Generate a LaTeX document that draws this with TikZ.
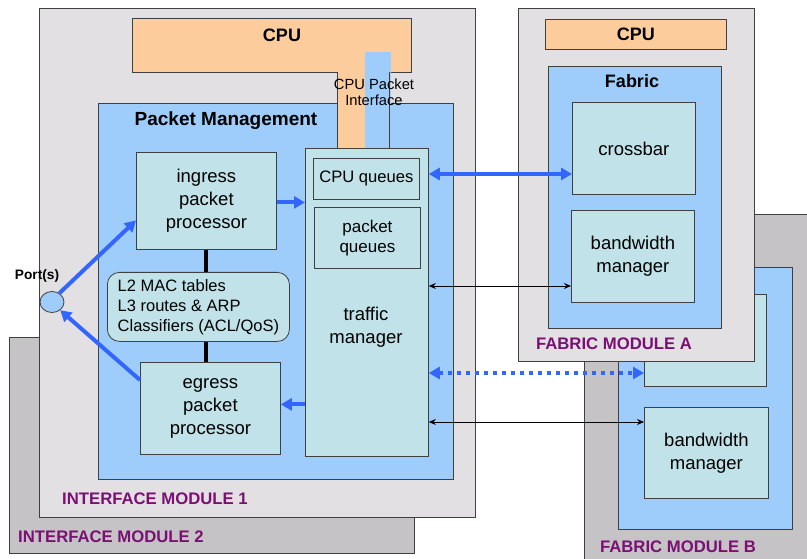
\documentclass[tikz,border=0pt]{standalone}
\usepackage{fontspec}
\setmainfont{Liberation Sans}
\usetikzlibrary{arrows.meta,shapes.geometric}
\definecolor{grayA}{HTML}{E2E0E3}
\definecolor{grayB}{HTML}{C5C3C6}
\definecolor{pmblue}{HTML}{9FCDFB}
\definecolor{cyanbox}{HTML}{C0E2E8}
\definecolor{cpuorange}{HTML}{FDCC9C}
\definecolor{arrowblue}{HTML}{3366FF}
\definecolor{modpurple}{HTML}{7B0F73}
\definecolor{edge}{HTML}{404040}
\begin{document}
\begin{tikzpicture}[x=1pt,y=-1pt,
  box/.style={draw=edge,line width=0.8pt,inner sep=0pt,anchor=north west,align=center,
    font=\fontsize{18.5}{23}\selectfont},
  modbox/.style={box,fill=grayA},
  modboxB/.style={box,fill=grayB},
  bluebox/.style={box,fill=pmblue},
  cyanbx/.style={box,fill=cyanbox},
  cpubox/.style={box,fill=cpuorange,font=\bfseries\fontsize{18}{20}\selectfont},
  title/.style={font=\bfseries\fontsize{18}{20}\selectfont,inner sep=0pt},
  modlabel/.style={font=\bfseries\fontsize{16.7}{20}\selectfont,text=modpurple,inner sep=0pt},
  bigarrow/.style={draw=arrowblue,line width=4pt,-{Triangle[length=11pt,width=12pt]}},
  bigdarrow/.style={draw=arrowblue,line width=4pt,{Triangle[length=11pt,width=12pt]}-{Triangle[length=11pt,width=12pt]}},
  dotarrow/.style={bigdarrow,dash pattern=on 4pt off 5pt},
  thinarrow/.style={draw=black,line width=0.8pt,{Stealth[length=7pt,width=6pt]}-{Stealth[length=7pt,width=6pt]}},
  link/.style={draw=black,line width=4pt}]
\useasboundingbox (0,0) rectangle (807,559);
\clip (0,0) rectangle (807,559);
\fill[white] (0,0) rectangle (807,559);

% Interface module 2 (behind)
\node[modboxB,minimum width=405pt,minimum height=216pt] (im2) at (9,337) {};
% Interface module 1
\node[modbox,minimum width=436pt,minimum height=509pt] (im1) at (39,8) {};

% Fabric module B (behind)
\node[modboxB,minimum width=240pt,minimum height=360pt] (fmb) at (584,214) {};
\node[bluebox,minimum width=174pt,minimum height=262pt] (fabb) at (618,267) {};
\node[cyanbx,minimum width=122pt,minimum height=92pt] (xbarb) at (644,294) {};
\node[cyanbx,minimum width=124pt,minimum height=91pt] (bwb) at (644,407) {bandwidth\\manager};

% Fabric module A
\node[modbox,minimum width=236pt,minimum height=353pt] (fma) at (518,8) {};
\node[cpubox,minimum width=181pt,minimum height=30pt] (cpua) at (545,19) {CPU};
\node[bluebox,minimum width=173pt,minimum height=262pt] (faba) at (548,66) {};
\node[title] (fabtitle) at (632,81) {Fabric};
\node[cyanbx,minimum width=123pt,minimum height=92pt] (xbara) at (572,102) {crossbar};
\node[cyanbx,minimum width=123pt,minimum height=92pt] (bwa) at (571,210) {bandwidth\\manager};

% Packet management
\node[bluebox,minimum width=355pt,minimum height=376pt] (pm) at (98,103) {};
\node[title,font=\bfseries\fontsize{19}{20}\selectfont] (pmtitle) at (226,121) {Packet Management};

% CPU T shape
\path[fill=cpuorange,draw=edge,line width=0.8pt] (132,18) -- (411,18) -- (411,72) -- (389,72) -- (389,148) -- (337,148) -- (337,72) -- (132,72) -- cycle;
\fill[pmblue] (365,52) rectangle (391,148);
\draw[edge,line width=0.8pt] (389,72) -- (389,148);
\node[title] (cpum) at (282,35) {CPU};
\node[font=\fontsize{14.7}{16.5}\selectfont,align=center,inner sep=0pt] (cpuif) at (374,92) {CPU Packet\\Interface};

% Inner boxes
\node[cyanbx,minimum width=140pt,minimum height=97pt] (ingress) at (136,152) {ingress\\packet\\processor};
\node[cyanbx,minimum width=140pt,minimum height=92pt] (egress) at (140,362) {egress\\packet\\processor};
\node[cyanbx,minimum width=123pt,minimum height=308pt] (tm) at (305,148) {};
\node[font=\fontsize{18.5}{23}\selectfont,align=center,inner sep=0pt] (tmlabel) at (366,327) {traffic\\manager};
\node[cyanbx,minimum width=106pt,minimum height=41pt,font=\fontsize{16.6}{20}\selectfont] (cpuq) at (313,158) {CPU queues};
\node[cyanbx,minimum width=106pt,minimum height=61pt,font=\fontsize{17}{20.5}\selectfont] (pktq) at (314,207) {packet\\queues};
\node[cyanbx,rounded corners=12pt,minimum width=182pt,minimum height=69pt,align=left,
  font=\fontsize{16.5}{20}\selectfont] (tables) at (107,272) {L2 MAC tables\\L3 routes \& ARP\\Classifiers (ACL/QoS)};

% Port
\node[ellipse,draw=edge,line width=0.8pt,fill=pmblue,minimum width=24pt,minimum height=21pt,inner sep=0pt] (port) at (52,302) {};
\node[font=\bfseries\fontsize{13.7}{16}\selectfont,inner sep=0pt] (portlabel) at (37,276) {Port(s)};

% black links
\draw[link] (ingress.south) -- (ingress.south |- tables.north);
\draw[link] (ingress.south |- tables.south) -- (ingress.south |- egress.north);

% blue arrows
\draw[bigarrow] (port.50) -- ([yshift=-19.5pt]ingress.west);
\draw[bigarrow] ([yshift=-18pt]egress.north west) -- (port.-45);
\coordinate (ia) at ([yshift=-1.5pt]ingress.east);
\draw[bigarrow] (ia) -- (tm.west |- ia);
\coordinate (ea) at ([yshift=4pt]egress.east);
\draw[bigarrow] (tm.west |- ea) -- (ea);

% connections to fabric
\coordinate (r1) at (500,174);
\coordinate (r2) at (500,286);
\coordinate (r3) at (500,373);
\coordinate (r4) at (500,422);
\draw[bigdarrow] (tm.east |- r1) -- (xbara.west |- r1);
\draw[thinarrow] (tm.east |- r2) -- (bwa.west |- r2);
\draw[dotarrow] (tm.east |- r3) -- (xbarb.west |- r3);
\draw[thinarrow] (tm.east |- r4) -- (bwb.west |- r4);

% module labels
\node[modlabel] (lim1) at (155,499) {INTERFACE MODULE 1};
\node[modlabel] (lim2) at (111,537) {INTERFACE MODULE 2};
\node[modlabel] (lfa) at (614,344) {FABRIC MODULE A};
\node[modlabel] (lfb) at (678,547) {FABRIC MODULE B};
\end{tikzpicture}
\end{document}
